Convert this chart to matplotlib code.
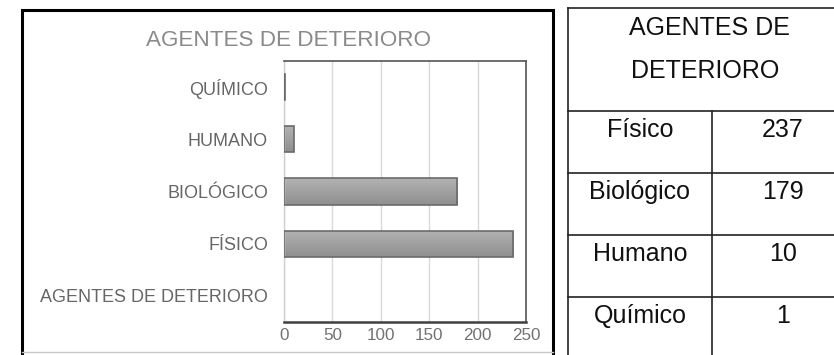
import matplotlib
matplotlib.use("Agg")
import matplotlib.pyplot as plt
import numpy as np

plt.rcParams['font.family'] = ['Liberation Sans', 'DejaVu Sans']

# ── datos ──────────────────────────────────────────────
categorias = ["AGENTES DE DETERIORO", "FÍSICO", "BIOLÓGICO", "HUMANO", "QUÍMICO"]
barras_cat = ["FÍSICO", "BIOLÓGICO", "HUMANO", "QUÍMICO"]
valores = [237, 179, 10, 1]
xticks = [0, 50, 100, 150, 200, 250]
titulo = "AGENTES DE DETERIORO"

tabla_titulo = ["AGENTES DE", "DETERIORO"]
tabla_nombres = ["Físico", "Biológico", "Humano", "Químico"]
tabla_valores = ["237", "179", "10", "1"]

W, H = 834, 355
fig = plt.figure(figsize=(W / 100, H / 100), dpi=100)
fig.patch.set_facecolor('white')

# capa en píxeles para marco y tabla
ov = fig.add_axes([0, 0, 1, 1], zorder=0)
ov.set_xlim(0, W)
ov.set_ylim(H, 0)
ov.axis('off')

# marco del gráfico
ov.plot([22, 22, 553, 553], [H + 5, 10, 10, H + 5], color='black', lw=2.2, solid_joinstyle='miter')
ov.plot([22, 553], [352, 352], color='#c8c8c8', lw=1)

# título
ov.text(289, 40, titulo, ha='center', va='center', fontsize=16.2, color='#8a8a8a')

# ── gráfico de barras ──
px0, px1, py0, py1 = 284, 526, 61, 322
ax = fig.add_axes([px0 / W, 1 - py1 / H, (px1 - px0) / W, (py1 - py0) / H], zorder=1)
ax.set_facecolor('none')

pos = [categorias.index(c) for c in barras_cat]
bars = ax.barh(pos, valores, height=0.5, facecolor='none', edgecolor='#6a6a6a',
               linewidth=1.2, zorder=3)
grad = np.linspace(0.70, 0.56, 64).reshape(-1, 1)
for b in bars:
    x0, y0, w, h = b.get_x(), b.get_y(), b.get_width(), b.get_height()
    im = ax.imshow(grad, extent=[x0, x0 + w, y0, y0 + h], origin='upper', aspect='auto',
                   cmap='gray', vmin=0, vmax=1, zorder=2)
    im.set_clip_path(b)

ax.set_xlim(0, 250)
ax.set_ylim(-0.5, len(categorias) - 0.5)
ax.set_yticks(range(len(categorias)))
ax.set_yticklabels(categorias)
ax.set_xticks(xticks)
ax.xaxis.grid(True, color='#d9d9d9', lw=1, zorder=0)
ax.set_axisbelow(True)
ax.tick_params(axis='y', length=0, pad=11.5, labelsize=13, labelcolor='#666666')
ax.tick_params(axis='x', length=0, pad=4.5, labelsize=12.3, labelcolor='#737373')
for s in ['top', 'right']:
    ax.spines[s].set_color('#555555')
    ax.spines[s].set_linewidth(1.2)
ax.spines['bottom'].set_color('#404040')
ax.spines['bottom'].set_linewidth(1.8)
ax.spines['left'].set_color('#d0d0d0')
ax.spines['left'].set_linewidth(1)

# ── tabla ──
tx0, tx1, tmid = 568, 850, 712
filas = [111, 173, 235, 297]
lc = '#222222'
ov.plot([tx0, tx1], [8, 8], color=lc, lw=1.2)
ov.plot([tx0, tx0], [8, H + 5], color=lc, lw=1.2)
ov.plot([tmid, tmid], [filas[0], H + 5], color=lc, lw=1.2)
for yy in filas:
    ov.plot([tx0, tx1], [yy, yy], color=lc, lw=1.2)

ov.text(709, 35, tabla_titulo[0], ha='center', va='baseline', fontsize=18, color='#111111')
ov.text(705, 78, tabla_titulo[1], ha='center', va='baseline', fontsize=18, color='#111111')
for yy, n, v in zip(filas, tabla_nombres, tabla_valores):
    ov.text((tx0 + tmid) / 2, yy + 26, n, ha='center', va='baseline', fontsize=18, color='#111111')
    ov.text(783, yy + 26, v, ha='center', va='baseline', fontsize=18, color='#111111')

fig.savefig('out.png', dpi=100, facecolor='white')
